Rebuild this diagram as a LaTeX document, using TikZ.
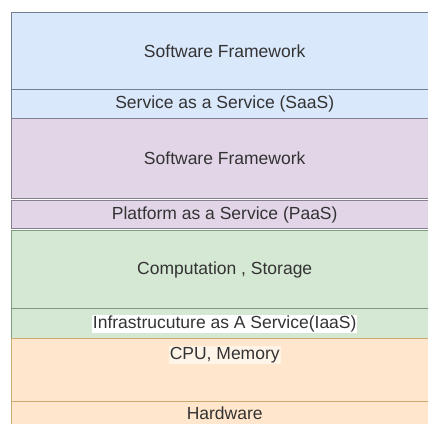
\documentclass[tikz,border=0pt]{standalone}
\usepackage{fontspec}
\setmainfont{Liberation Sans}
\definecolor{bfill}{HTML}{DAE8FC}
\definecolor{bline}{HTML}{727F92}
\definecolor{pfill}{HTML}{E1D5E7}
\definecolor{pline}{HTML}{858090}
\definecolor{gfill}{HTML}{D5E8D4}
\definecolor{gline}{HTML}{809A80}
\definecolor{ofill}{HTML}{FFE6CC}
\definecolor{oline}{HTML}{CBAA70}
\definecolor{txt}{HTML}{333333}
\tikzset{
  layer/.style={draw=#1, line width=1.4pt, minimum width=426pt, inner sep=0pt, anchor=north west, font=\fontsize{17.5}{20}\selectfont, text=txt},
}
\begin{document}
\begin{tikzpicture}[x=1pt,y=1pt]
\useasboundingbox (0,0) rectangle (428,-423);
\clip (0,0) rectangle (428,-423);
\fill[white] (0,0) rectangle (428,-423);
% blue
\node[layer=bline, fill=bfill, minimum height=77pt] (sf1) at (11,-12) {Software Framework};
\node[layer=bline, fill=bfill, minimum height=29pt] (saas) at (11,-89) {Service as a Service (SaaS)};
% purple
\node[layer=pline, fill=pfill, minimum height=80pt] (sf2) at (11,-118) {Software Framework};
\node[layer=pline, fill=pfill, minimum height=28pt] (paas) at (11,-200) {Platform as a Service (PaaS)};
% green
\node[layer=gline, fill=gfill, minimum height=78pt] (comp) at (11,-230) {Computation , Storage};
\node[layer=gline, fill=gfill, minimum height=30pt] (iaas) at (11,-308) {};
\node[fill=white, inner sep=1pt, font=\fontsize{17.5}{20}\selectfont, text=txt] (iaastxt) at (iaas.center) {Infrastrucuture as A Service(IaaS)};
% orange
\node[layer=oline, fill=ofill, minimum height=63pt] (cpu) at (11,-338) {};
\node[fill=white!55!ofill, inner sep=1pt, font=\fontsize{17.5}{20}\selectfont, text=txt, anchor=north] (cputxt) at ([yshift=-8pt]cpu.north) {CPU, Memory};
\node[layer=oline, fill=ofill, minimum height=36pt] (hw) at (11,-401) {};
\node[font=\fontsize{17.5}{20}\selectfont, text=txt, anchor=north, inner sep=1pt] (hwtxt) at ([yshift=-5pt]hw.north) {Hardware};
\end{tikzpicture}
\end{document}
